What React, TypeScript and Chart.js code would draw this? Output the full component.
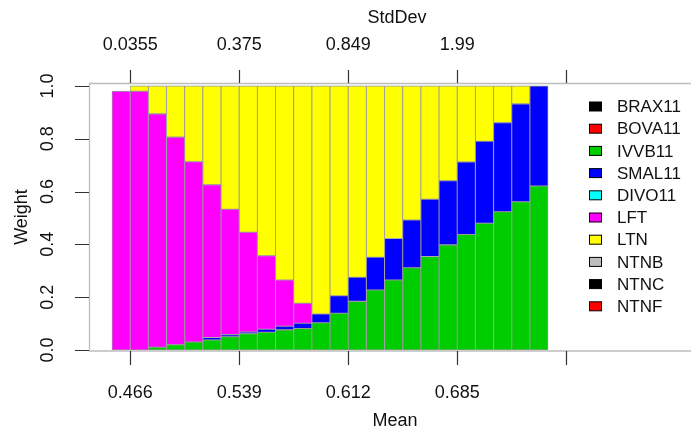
import React, { useEffect, useRef } from "react";
import { Chart, registerables } from "chart.js";

Chart.register(...registerables);

// ---- data ----
const assets = ["BRAX11", "BOVA11", "IVVB11", "SMAL11", "DIVO11", "LFT", "LTN", "NTNB", "NTNC", "NTNF"];
const assetColors = ["#000000", "#FF0000", "#00CD00", "#0000FF", "#00FFFF", "#FF00FF", "#FFFF00", "#BEBEBE", "#000000", "#FF0000"];

const NO_WEIGHT = [0, 0, 0, 0, 0, 0, 0, 0, 0, 0, 0, 0, 0, 0, 0, 0, 0, 0, 0, 0, 0, 0, 0, 0];
const BRAX11 = NO_WEIGHT;
const BOVA11 = NO_WEIGHT;
const IVVB11 = [0, 0, 0.01, 0.02, 0.03, 0.038, 0.05, 0.061, 0.067, 0.076, 0.081, 0.103, 0.139, 0.184, 0.227, 0.265, 0.311, 0.354, 0.398, 0.437, 0.48, 0.523, 0.561, 0.621];
const SMAL11 = [0, 0, 0, 0, 0, 0.009, 0.008, 0.007, 0.011, 0.014, 0.02, 0.033, 0.066, 0.091, 0.124, 0.157, 0.181, 0.217, 0.243, 0.275, 0.31, 0.338, 0.371, 0.379];
const DIVO11 = NO_WEIGHT;
const LFT = [0.98, 0.98, 0.884, 0.786, 0.683, 0.579, 0.475, 0.378, 0.279, 0.175, 0.076, 0, 0, 0, 0, 0, 0, 0, 0, 0, 0, 0, 0, 0];
const LTN = [0, 0.02, 0.106, 0.194, 0.287, 0.374, 0.467, 0.554, 0.643, 0.735, 0.823, 0.864, 0.795, 0.725, 0.649, 0.578, 0.508, 0.429, 0.359, 0.288, 0.21, 0.139, 0.068, 0];
const NTNB = NO_WEIGHT;
const NTNC = NO_WEIGHT;
const NTNF = NO_WEIGHT;
const weights = [BRAX11, BOVA11, IVVB11, SMAL11, DIVO11, LFT, LTN, NTNB, NTNC, NTNF];

// axis ticks (positions in portfolio-index units, R barplot with space = 0)
const tickPositions = [1, 7, 13, 19, 25];
const meanLabels = ["0.466", "0.539", "0.612", "0.685", ""];
const stdDevLabels = ["0.0355", "0.375", "0.849", "1.99", ""];
const weightTicks = [0, 0.2, 0.4, 0.6, 0.8, 1.0];
const weightTickLabels = ["0.0", "0.2", "0.4", "0.6", "0.8", "1.0"];

const FONT = "'Liberation Sans', Arial, Helvetica, sans-serif";
const TEXT = "#111111";

const rPlotPlugin = {
  id: "rPlot",
  afterDatasetsDraw(chart: any) {
    const ctx = chart.ctx;
    const xs = chart.scales.x;
    const ys = chart.scales.y;
    const { left, top, right, bottom } = chart.chartArea;
    ctx.save();

    // box (grey)
    ctx.strokeStyle = "#BDBDBD";
    ctx.lineWidth = 1.3;
    ctx.beginPath();
    ctx.moveTo(right + 5, top + 0.5);
    ctx.lineTo(left + 0.5, top + 0.5);
    ctx.lineTo(left + 0.5, bottom);
    ctx.lineTo(right + 5, bottom);
    ctx.stroke();

    // ticks
    ctx.strokeStyle = "#333333";
    ctx.lineWidth = 1.2;
    ctx.beginPath();
    tickPositions.forEach((p) => {
      const px = Math.round(xs.getPixelForValue(p)) + 0.5;
      ctx.moveTo(px, bottom);
      ctx.lineTo(px, bottom + 14);
      ctx.moveTo(px, top);
      ctx.lineTo(px, top - 13);
    });
    weightTicks.forEach((v) => {
      const py = Math.round(ys.getPixelForValue(v)) + 0.5;
      ctx.moveTo(left, py);
      ctx.lineTo(left - 14, py);
    });
    ctx.stroke();

    // tick labels
    ctx.fillStyle = TEXT;
    ctx.font = `18px ${FONT}`;
    ctx.textAlign = "center";
    ctx.textBaseline = "middle";
    tickPositions.forEach((p, i) => {
      const px = xs.getPixelForValue(p);
      ctx.fillText(meanLabels[i], px, 393);
      ctx.fillText(stdDevLabels[i], px, 45);
    });
    weightTicks.forEach((v, i) => {
      const py = ys.getPixelForValue(v);
      ctx.save();
      ctx.translate(48, py);
      ctx.rotate(-Math.PI / 2);
      ctx.fillText(weightTickLabels[i], 0, 0);
      ctx.restore();
    });

    // axis titles
    ctx.fillText("Mean", 395, 421);
    ctx.fillText("StdDev", 397, 18);
    ctx.save();
    ctx.translate(22, (top + bottom) / 2);
    ctx.rotate(-Math.PI / 2);
    ctx.fillText("Weight", 0, 0);
    ctx.restore();

    // legend
    ctx.font = `17px ${FONT}`;
    ctx.textAlign = "left";
    chart.data.datasets.forEach((ds: any, i: number) => {
      const cy = 106.5 + i * 22.2;
      ctx.fillStyle = ds.backgroundColor;
      ctx.fillRect(589, cy - 4.5, 13, 9);
      ctx.strokeStyle = "#000000";
      ctx.lineWidth = 1;
      ctx.strokeRect(589.5, cy - 4.5, 12, 9);
      ctx.fillStyle = TEXT;
      ctx.fillText(ds.label, 617, cy + 1);
    });

    ctx.restore();
  },
};

export default function App() {
  const canvasRef = useRef<HTMLCanvasElement | null>(null);

  useEffect(() => {
    const canvas = canvasRef.current;
    if (!canvas) return;
    const datasets = assets.map((name, k) => ({
      label: name,
      data: weights[k].map((w, i) => ({ x: i + 0.5, y: w })),
      backgroundColor: assetColors[k],
      borderColor: "#9A9A9A",
      borderWidth: 0.85,
      borderSkipped: false,
      barPercentage: 1,
      categoryPercentage: 1,
    }));
    const chart = new Chart(canvas, {
      type: "bar",
      data: { datasets },
      options: {
        animation: false,
        responsive: false,
        maintainAspectRatio: false,
        layout: { padding: { left: 89, top: 83, right: 0, bottom: 80 } },
        plugins: { legend: { display: false }, tooltip: { enabled: false }, title: { display: false } },
        scales: {
          x: {
            type: "linear",
            stacked: true,
            display: false,
            offset: false,
            grid: { offset: false },
            min: -1.266,
            max: 31.866,
            afterBuildTicks: (scale: any) => {
              scale.ticks = tickPositions.map((v) => ({ value: v }));
            },
          },
          y: {
            type: "linear",
            stacked: true,
            display: false,
            min: -0.004,
            max: 1.011,
          },
        },
      },
      plugins: [rPlotPlugin],
    });
    return () => chart.destroy();
  }, []);

  return (
    <div style={{ position: "fixed", left: 0, top: 0, width: 691, height: 431, background: "#ffffff" }}>
      <canvas ref={canvasRef} width={691} height={431} style={{ width: 691, height: 431, display: "block" }} />
    </div>
  );
}
